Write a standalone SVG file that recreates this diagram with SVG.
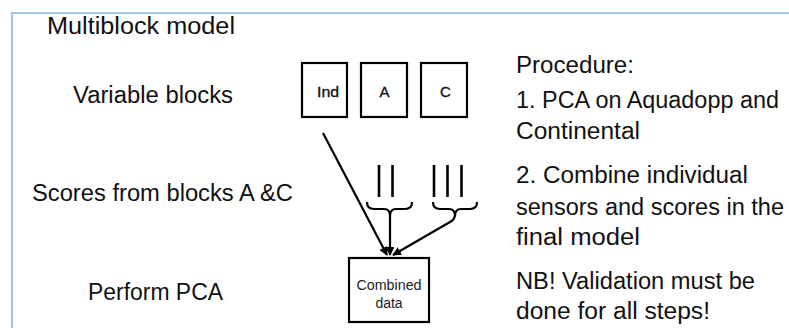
<svg xmlns="http://www.w3.org/2000/svg" width="789" height="328" viewBox="0 0 789 328">
  <defs>
    <style>
      .big { font-family: "Liberation Sans", Arial, sans-serif; font-size: 23px; fill: #111; }
      .small { font-family: "Liberation Sans", Arial, sans-serif; font-size: 14px; fill: #111; }
      .lbl { font-family: "Liberation Sans", Arial, sans-serif; font-size: 15px; fill: #111; stroke: #111; stroke-width: 0.35; }
      .box { fill: #fff; stroke: #000; stroke-width: 2.2; }
      .conn { fill: none; stroke: #000; stroke-width: 2.2; }
      .score { stroke: #000; stroke-width: 2.6; }
    </style>
    <marker id="arr" viewBox="0 0 10 10" refX="9" refY="5" markerWidth="4" markerHeight="4" orient="auto" markerUnits="strokeWidth">
      <path d="M0,0 L10,5 L0,10 z" fill="#000"/>
    </marker>
  </defs>
  <rect width="789" height="328" fill="#fff"/>
  <!-- frame -->
  <path d="M12,328 L12,13 L789,13" fill="none" stroke="#a9c3e3" stroke-width="2.2"/>

  <g id="labels-left">
    <text class="big" x="47" y="34" textLength="188" lengthAdjust="spacingAndGlyphs">Multiblock model</text>
    <text class="big" x="73" y="103" textLength="160" lengthAdjust="spacingAndGlyphs">Variable blocks</text>
    <text class="big" x="32" y="201" textLength="261" lengthAdjust="spacingAndGlyphs">Scores from blocks A &amp;C</text>
    <text class="big" x="88" y="300" textLength="135" lengthAdjust="spacingAndGlyphs">Perform PCA</text>
  </g>

  <g id="node-ind">
    <rect class="box" x="302" y="63" width="45" height="54"/>
    <text class="lbl" x="317" y="97" textLength="22" lengthAdjust="spacingAndGlyphs">Ind</text>
  </g>
  <g id="node-a">
    <rect class="box" x="361" y="63" width="46" height="54"/>
    <text class="lbl" x="384.5" y="97" text-anchor="middle">A</text>
  </g>
  <g id="node-c">
    <rect class="box" x="421" y="63" width="46" height="54"/>
    <text class="lbl" x="445.5" y="97" text-anchor="middle">C</text>
  </g>

  <g id="scores">
    <line class="score" x1="379" y1="165" x2="379" y2="197"/>
    <line class="score" x1="392.5" y1="165" x2="392.5" y2="197"/>
    <line class="score" x1="434" y1="165" x2="434" y2="197"/>
    <line class="score" x1="447.5" y1="165" x2="447.5" y2="197"/>
    <line class="score" x1="461.5" y1="165" x2="461.5" y2="197"/>
  </g>

  <g id="braces">
    <path class="conn" d="M367,202 Q367,209 374,209 L384,209 Q390,209 390,216 Q390,209 396,209 L405,209 Q412,209 412,202"/>
    <path class="conn" d="M433,202 Q433,209 440,209 L449,209 Q455,209 455,216 Q455,209 461,209 L470,209 Q477,209 477,202"/>
  </g>

  <g id="connectors">
    <line class="conn" x1="323" y1="133" x2="387" y2="255" marker-end="url(#arr)"/>
    <line class="conn" x1="390" y1="216" x2="390" y2="255" marker-end="url(#arr)"/>
    <path class="conn" d="M455,216 Q454,220 450,222 L393,255" marker-end="url(#arr)"/>
  </g>

  <g id="node-combined">
    <rect class="box" x="349" y="258" width="80" height="64"/>
    <text class="small" x="389" y="290" text-anchor="middle" textLength="65" lengthAdjust="spacingAndGlyphs" style="fill:#222">Combined</text>
    <text class="small" x="389" y="308" text-anchor="middle" style="fill:#222">data</text>
  </g>

  <g id="procedure">
    <text class="big" x="516" y="73" textLength="118" lengthAdjust="spacingAndGlyphs">Procedure:</text>
    <text class="big" x="516" y="108" textLength="263" lengthAdjust="spacingAndGlyphs">1. PCA on Aquadopp and</text>
    <text class="big" x="516" y="139" textLength="124" lengthAdjust="spacingAndGlyphs">Continental</text>
    <text class="big" x="516" y="183" textLength="232" lengthAdjust="spacingAndGlyphs">2. Combine individual</text>
    <text class="big" x="516" y="215" textLength="268" lengthAdjust="spacingAndGlyphs">sensors and scores in the</text>
    <text class="big" x="516" y="245" textLength="124" lengthAdjust="spacingAndGlyphs">final model</text>
    <text class="big" x="516" y="289" textLength="239" lengthAdjust="spacingAndGlyphs">NB! Validation must be</text>
    <text class="big" x="516" y="319" textLength="194" lengthAdjust="spacingAndGlyphs">done for all steps!</text>
  </g>
</svg>
